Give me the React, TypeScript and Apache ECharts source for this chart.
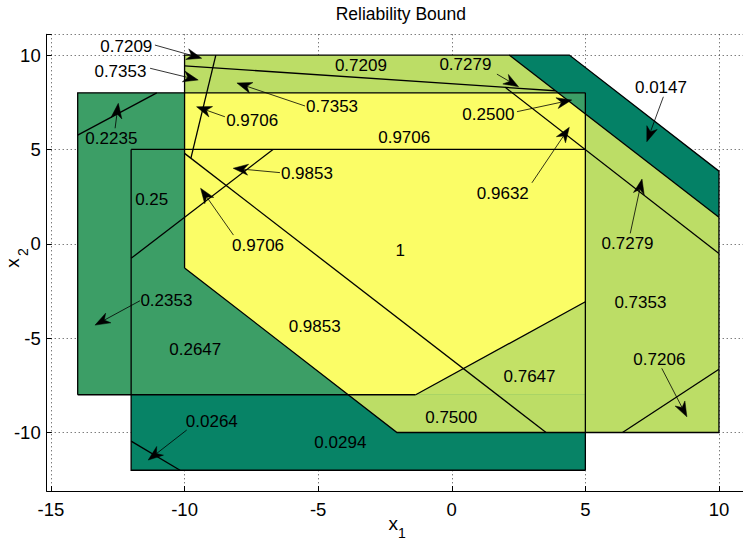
import React, { useEffect, useRef } from 'react';
import * as echarts from 'echarts';

// ---------- data ----------
const xTickValues = [-15, -10, -5, 0, 5, 10];
const yTickValues = [-10, -5, 0, 5, 10];

// filled regions (drawn in order), value -> summer colormap
const regionValues = [0.0294, 0.0147, 0.7353, 0.2353, 0.9853, 0.7647];
const regionPolys: number[][][] = [
  [[-12, 5], [5, 5], [5, -12], [-12, -12]],
  [[-10, 10], [4.4, 10], [10, 3.85], [10, -10], [-2.05, -10], [-10, -1.28]],
  [[-10, 10], [2.15, 10], [10, 1.4], [10, -10], [-2.05, -10], [-10, -1.28]],
  [[-14, 8], [5, 8], [5, -8], [-14, -8]],
  [[-10, 8], [3.97, 8], [5, 6.88], [5, -3.07], [-1.35, -8], [-3.87, -8], [-10, -1.28]],
  [[-1.35, -8], [5, -3.07], [5, -8]],
];

// region boundaries
const edgeLines: number[][][] = [
  [[-14, -8], [-14, 8], [5, 8]],
  [[-14, -8], [-1.35, -8]],
  [[5, 8], [5, -12]],
  [[-12, 5], [-12, -12], [5, -12]],
  [[-12, 5], [5, 5]],
  [[-10, -1.28], [-10, 10], [4.4, 10], [10, 3.85], [10, -10], [-2.05, -10], [-10, -1.28]],
  [[2.15, 10], [10, 1.4]],
  [[-1.35, -8], [5, -3.07]],
  [[-10, 9.43], [3.87, 8.11]],
  [[2.0, 8.29], [10, -0.51]],
  [[-8.83, 10], [-9.76, 4.55]],
  [[-10, 4.79], [3.53, -10]],
  [[-12, -0.77], [-6.69, 5]],
  [[-14, 5.76], [-11.04, 8]],
  [[-12, -10.46], [-10.17, -12]],
  [[6.39, -10], [10, -6.65]],
];

const labelTexts = ['0.7209', '0.7353', '0.2235', '0.9706', '0.7353', '0.7209', '0.7279', '0.0147', '0.2500', '0.9706', '0.9632', '0.9853', '0.25', '0.9706', '1', '0.2353', '0.2647', '0.9853', '0.7279', '0.7353', '0.7206', '0.7647', '0.7500', '0.0264', '0.0294'];
const labelX = [-12.18, -12.40, -12.74, -7.47, -4.48, -3.40, 0.51, 7.83, 1.37, -1.78, 1.91, -5.42, -11.23, -7.25, -1.93, -10.68, -9.60, -5.13, 6.58, 7.06, 7.77, 2.91, -0.02, -8.98, -4.17];
const labelY = [10.46, 9.14, 5.56, 6.51, 7.26, 9.47, 9.51, 8.28, 6.87, 5.64, 2.69, 3.70, 2.36, -0.11, -0.38, -2.98, -5.60, -4.37, 0.04, -3.13, -6.12, -7.05, -9.19, -9.41, -10.52];

// arrows: tail -> tip
const arrowTailX = [-11.11, -11.29, -12.60, -8.49, -5.49, 1.69, 7.92, 2.44, 3.00, -6.43, -8.17, -11.67, 6.68, 7.86, -9.92];
const arrowTailY = [10.53, 9.30, 6.12, 6.73, 7.30, 8.99, 7.79, 7.00, 3.23, 3.77, 0.46, -3.02, 0.55, -6.60, -9.87];
const arrowTipX = [-9.36, -9.49, -12.48, -9.55, -8.04, 2.50, 7.30, 4.49, 4.40, -8.18, -9.40, -13.35, 7.12, 8.80, -11.36];
const arrowTipY = [9.83, 8.68, 7.44, 7.26, 8.52, 8.32, 5.41, 7.62, 6.17, 4.00, 2.94, -4.31, 3.43, -9.17, -11.46];

// ---------- helpers ----------
const FONT = "'Liberation Sans', Arial, Helvetica, sans-serif";
const summer = (v: number) =>
  `rgb(${Math.round(v * 255)},${Math.round((0.5 + 0.5 * v) * 255)},102)`;

export default function App() {
  const ref = useRef<HTMLDivElement>(null);
  useEffect(() => {
    if (!ref.current) return;
    const chart = echarts.init(ref.current, null, { renderer: 'svg' });
    const option: any = {
      animation: false,
      backgroundColor: '#fff',
      grid: { left: 46.7, top: 34.3, width: 696.3, height: 456.7, containLabel: false, outerBoundsMode: 'none' },
      xAxis: {
        type: 'value',
        min: -15.16,
        max: 10.9,
        splitNumber: 5,
        axisLine: { show: true, onZero: false, lineStyle: { color: '#000', width: 1 } },
        axisTick: { show: true, inside: true, length: 5, lineStyle: { color: '#000' } },
        axisLabel: {
          margin: 9,
          color: '#000',
          fontSize: 18.5,
          fontFamily: FONT,
          formatter: (v: number) => (xTickValues.indexOf(Math.round(v * 1000) / 1000) >= 0 ? String(v) : ''),
        },
        splitLine: { show: true, lineStyle: { color: '#444', type: [1, 3], width: 1 } },
      },
      yAxis: {
        type: 'value',
        min: -13.1,
        max: 11.1,
        splitNumber: 5,
        axisLine: { show: true, onZero: false, lineStyle: { color: '#000', width: 1 } },
        axisTick: { show: true, inside: true, length: 5, lineStyle: { color: '#000' } },
        axisLabel: {
          margin: 6,
          color: '#000',
          fontSize: 18.5,
          fontFamily: FONT,
          formatter: (v: number) => (yTickValues.indexOf(Math.round(v * 1000) / 1000) >= 0 ? String(v) : ''),
        },
        splitLine: { show: true, lineStyle: { color: '#444', type: [1, 3], width: 1 } },
      },
      graphic: [
        { type: 'text', x: 400.8, y: 14, style: { text: 'Reliability Bound', fontSize: 17.5, fontFamily: FONT, fill: '#000', align: 'center', verticalAlign: 'middle' } },
        { type: 'text', x: 393.3, y: 523.5, style: { text: 'x', fontSize: 19, fontFamily: FONT, fill: '#000', align: 'center', verticalAlign: 'middle' } },
        { type: 'text', x: 402, y: 533, style: { text: '1', fontSize: 14, fontFamily: FONT, fill: '#000', align: 'center', verticalAlign: 'middle' } },
        { type: 'text', x: 12.5, y: 263, rotation: Math.PI / 2, style: { text: 'x', fontSize: 19, fontFamily: FONT, fill: '#000', align: 'center', verticalAlign: 'middle' } },
        { type: 'text', x: 23, y: 252, rotation: Math.PI / 2, style: { text: '2', fontSize: 14, fontFamily: FONT, fill: '#000', align: 'center', verticalAlign: 'middle' } },
      ],
      series: [
        {
          type: 'custom',
          name: 'regions',
          coordinateSystem: 'cartesian2d',
          data: regionPolys.map((_, i) => [0, 0, i]),
          encode: { x: 0, y: 1 },
          silent: true,
          z: 2,
          renderItem: (params: any, api: any) => {
            const i = api.value(2);
            return {
              type: 'polygon',
              shape: { points: regionPolys[i].map((p) => api.coord(p)) },
              style: { fill: summer(regionValues[i]), stroke: 'none' },
            };
          },
        },
        {
          type: 'custom',
          name: 'edges',
          coordinateSystem: 'cartesian2d',
          data: edgeLines.map((_, i) => [0, 0, i]),
          encode: { x: 0, y: 1 },
          silent: true,
          z: 3,
          renderItem: (params: any, api: any) => {
            const i = api.value(2);
            return {
              type: 'polyline',
              shape: { points: edgeLines[i].map((p) => api.coord(p)) },
              style: { fill: 'none', stroke: '#000', lineWidth: 1.3, lineJoin: 'miter' },
            };
          },
        },
        {
          type: 'custom',
          name: 'arrows',
          coordinateSystem: 'cartesian2d',
          data: arrowTipX.map((_, i) => [0, 0, i]),
          encode: { x: 0, y: 1 },
          silent: true,
          z: 4,
          renderItem: (params: any, api: any) => {
            const i = api.value(2);
            const a = api.coord([arrowTailX[i], arrowTailY[i]]);
            const b = api.coord([arrowTipX[i], arrowTipY[i]]);
            const dx = b[0] - a[0];
            const dy = b[1] - a[1];
            const len = Math.sqrt(dx * dx + dy * dy) || 1;
            const ux = dx / len, uy = dy / len;
            const nx = -uy, ny = ux;
            const L = 15, W = 5.5, N = 4.5;
            const back = [b[0] - ux * L, b[1] - uy * L];
            const notch = [b[0] - ux * (L - N), b[1] - uy * (L - N)];
            return {
              type: 'group',
              children: [
                { type: 'line', shape: { x1: a[0], y1: a[1], x2: notch[0], y2: notch[1] }, style: { stroke: '#000', lineWidth: 0.8 } },
                {
                  type: 'polygon',
                  shape: { points: [b, [back[0] + nx * W, back[1] + ny * W], notch, [back[0] - nx * W, back[1] - ny * W]] },
                  style: { fill: '#000', stroke: '#000', lineWidth: 0.5 },
                },
              ],
            };
          },
        },
        {
          type: 'custom',
          name: 'labels',
          coordinateSystem: 'cartesian2d',
          data: labelTexts.map((_, i) => [0, 0, i]),
          encode: { x: 0, y: 1 },
          silent: true,
          z: 5,
          renderItem: (params: any, api: any) => {
            const i = api.value(2);
            const p = api.coord([labelX[i], labelY[i]]);
            return {
              type: 'text',
              x: p[0],
              y: p[1],
              style: { text: labelTexts[i], fontSize: 17, fontFamily: FONT, fill: '#000', align: 'center', verticalAlign: 'middle' },
            };
          },
        },
      ],
    };
    chart.setOption(option);
    return () => chart.dispose();
  }, []);
  return <div ref={ref} style={{ position: 'fixed', left: 0, top: 0, width: 743, height: 541 }} />;
}
